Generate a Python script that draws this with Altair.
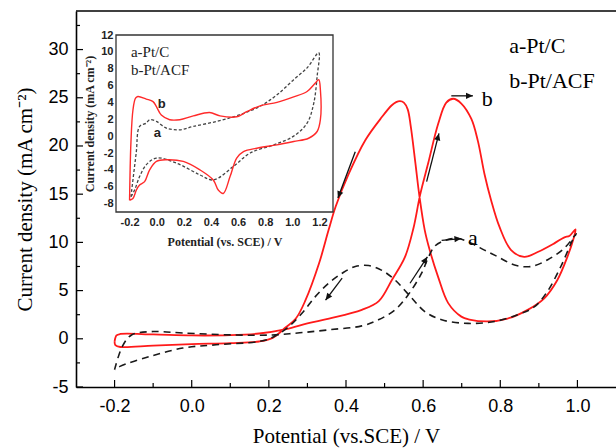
import math
import altair as alt
import pandas as pd

# ---------------- data ----------------
# main panel, curve b (Pt/ACF), red solid: forward then reverse scan
b_x = [-0.2, -0.195, -0.185, -0.1, 0.0, 0.1, 0.175, 0.245, 0.3, 0.356, 0.441, 0.485,
       0.519, 0.553, 0.575, 0.592, 0.613, 0.639, 0.66, 0.678, 0.699, 0.725, 0.742,
       0.759, 0.776, 0.798, 0.828, 0.862, 0.897, 0.94, 0.965, 0.98, 0.995,
       0.99, 0.974, 0.948, 0.914, 0.871, 0.819, 0.768, 0.72, 0.699, 0.665, 0.639,
       0.617, 0.604, 0.59, 0.58, 0.568, 0.56, 0.55, 0.54, 0.53, 0.518, 0.493, 0.45, 0.407,
       0.373, 0.355, 0.33, 0.295, 0.27, 0.244, 0.21, 0.175, 0.1, 0.0, -0.1, -0.185,
       -0.198, -0.2]
b_y = [-0.3, 0.35, 0.5, 0.45, 0.35, 0.38, 0.55, 1.0, 1.6, 2.1, 3.0, 3.9,
       6.1, 8.5, 11.5, 14.9, 18.2, 22.3, 24.5, 24.9, 24.4, 22.8, 20.5,
       17.1, 14.4, 11.6, 9.2, 8.5, 9.0, 9.9, 10.5, 10.7, 11.35,
       10.4, 8.5, 6.1, 4.2, 3.0, 2.1, 1.8, 2.0, 2.3, 3.7, 6.4,
       9.2, 11.3, 14.9, 18.2, 22.0, 23.8, 24.5, 24.65, 24.55, 24.2, 23.0, 20.6, 17.1,
       13.7, 11.3, 7.8, 4.0, 2.1, 1.2, 0.1, -0.28, -0.45, -0.55, -0.7, -0.85,
       -0.65, -0.3]

# main panel, curve a (Pt/C), black dashed
a_x = [-0.2, -0.18, -0.156, -0.1, -0.023, 0.106, 0.209, 0.28, 0.355, 0.441, 0.484,
       0.527, 0.561, 0.596, 0.613, 0.63, 0.656, 0.69, 0.725, 0.759, 0.794, 0.837,
       0.88, 0.923, 0.966, 0.991, 0.997,
       0.987, 0.957, 0.922, 0.888, 0.845, 0.785, 0.716, 0.648, 0.605, 0.571, 0.527,
       0.493, 0.459, 0.424, 0.39, 0.356, 0.321, 0.287, 0.25, 0.21, 0.175, 0.063,
       -0.023, -0.108, -0.186, -0.2]
a_y = [-3.2, -0.8, 0.4, 0.75, 0.6, 0.4, 0.4, 0.62, 0.93, 1.34, 1.97,
       3.0, 4.55, 6.8, 8.4, 9.6, 10.2, 10.4, 9.9, 9.2, 8.5, 7.65,
       7.5, 8.2, 9.4, 10.6, 10.9,
       10.2, 7.5, 4.9, 3.3, 2.5, 1.8, 1.6, 1.97, 2.8, 4.2, 6.1,
       7.1, 7.6, 7.5, 6.8, 5.8, 4.4, 2.7, 1.2, 0.15, -0.28, -0.62,
       -0.96, -1.83, -2.86, -3.2]

# inset, curve b (red solid)
ib_x = [-0.2, -0.19, -0.175, -0.156, -0.139, -0.077, -0.027, -0.002, 0.034, 0.096,
        0.17, 0.27, 0.39, 0.467, 0.59, 0.664, 0.763, 0.887, 1.01, 1.109, 1.17, 1.195,
        1.207, 1.207, 1.183, 1.12, 1.01, 0.887, 0.739, 0.64, 0.59, 0.541, 0.491,
        0.454, 0.417, 0.319, 0.196, 0.072, -0.002, -0.052, -0.089, -0.126, -0.15,
        -0.175, -0.2]
ib_y = [-7.6, -0.8, 3.1, 4.5, 4.7, 4.4, 4.1, 3.5, 2.5, 1.95,
        1.95, 2.4, 2.8, 2.4, 2.3, 2.9, 3.6, 4.0, 4.65, 5.3, 6.3, 6.7,
        5.5, 1.95, 0.55, -0.25, -0.64, -1.04, -1.43, -1.84, -2.6, -4.8, -6.8,
        -6.4, -5.2, -4.0, -3.0, -2.8, -3.0, -4.0, -5.4, -5.8, -6.4,
        -7.4, -7.6]

# inset, curve a (dark dotted)
ia_x = [-0.19, -0.151, -0.126, -0.077, -0.052, -0.002, 0.072, 0.17, 0.27, 0.442,
        0.615, 0.763, 0.887, 1.01, 1.109, 1.195, 1.183, 1.158, 1.109, 1.01, 0.862,
        0.689, 0.565, 0.417, 0.319, 0.146, -0.002, -0.077, -0.126, -0.163, -0.19]
ia_y = [-7.2, -2.0, 1.15, 1.55, 1.95, 1.75, 0.95, 0.75, 1.15, 1.75,
        2.55, 3.55, 4.9, 6.7, 8.1, 9.9, 7.1, 3.9, 1.55, 0.0, -1.04,
        -2.0, -3.6, -5.2, -4.6, -3.2, -2.6, -3.4, -4.8, -6.4, -7.2]

# tick values
x_major = [-0.2, 0.0, 0.2, 0.4, 0.6, 0.8, 1.0]
x_minor = [-0.1, 0.1, 0.3, 0.5, 0.7, 0.9]
y_major = [-5, 0, 5, 10, 15, 20, 25, 30]
y_minor = [-2.5, 2.5, 7.5, 12.5, 17.5, 22.5, 27.5, 32.5]
ix_ticks = [-0.2, 0.0, 0.2, 0.4, 0.6, 0.8, 1.0, 1.2]
iy_ticks = [-8, -6, -4, -2, 0, 2, 4, 6, 8, 10, 12]

# arrows (start -> tip, data coordinates)
arr_x0 = [0.424, 0.609, 0.673, 0.39, 0.566, 0.648]
arr_y0 = [19.4, 16.3, 25.2, 6.3, 5.76, 10.2]
arr_x1 = [0.379, 0.641, 0.729, 0.347, 0.611, 0.699]
arr_y1 = [14.6, 21.3, 25.2, 4.0, 8.5, 10.4]

# text annotations
main_txt = ["a-Pt/C", "b-Pt/ACF", "b", "a"]
main_txt_x = [0.823, 0.823, 0.752, 0.716]
main_txt_y = [29.6, 26.0, 24.15, 9.75]
inset_txt = ["a-Pt/C", "b-Pt/ACF"]
inset_txt_x = [-0.19, -0.19]
inset_txt_y = [9.4, 7.3]
inset_lbl = ["b", "a"]
inset_lbl_x = [0.008, -0.021]
inset_lbl_y = [3.34, -0.1]

# ---------------- layout ----------------
W, H = 540, 376
XD, YD = [-0.3, 1.1], [-5, 34]
IXD, IYD = [-0.3, 1.3], [-9, 12]
IXR, IYR = [40, 257], [201, 24]

SANS = "Liberation Sans"
SERIF = "Liberation Serif"


def xs():
    return alt.Scale(domain=XD, range=[0, W], nice=False, zero=False)


def ys():
    return alt.Scale(domain=YD, range=[H, 0], nice=False, zero=False)


def ixs():
    return alt.Scale(domain=IXD, range=IXR, nice=False, zero=False)


def iys():
    return alt.Scale(domain=IYD, range=IYR, nice=False, zero=False)


def curve(xv, yv):
    return pd.DataFrame({"x": xv, "y": yv, "i": list(range(len(xv)))})


def neg_fmt(fmt):
    return f"datum.value < 0 ? '-' + format(-datum.value, '{fmt}') : format(datum.value, '{fmt}')"


x_axis = alt.Axis(orient="bottom", values=x_major, labelExpr=neg_fmt(".1f"), ticks=False,
                  grid=False, domain=True, domainColor="black", domainWidth=1.6,
                  labelFont=SANS, labelFontSize=18, labelColor="black", labelPadding=10,
                  title="Potential (vs.SCE) / V", titleFont=SERIF, titleFontSize=21,
                  titleFontWeight="normal", titleColor="black", titlePadding=10)
y_axis = alt.Axis(orient="left", values=y_major, labelExpr=neg_fmt("d"), ticks=False,
                  grid=False, domain=True, domainColor="black", domainWidth=1.6,
                  labelFont=SANS, labelFontSize=18, labelColor="black", labelPadding=8,
                  title="Current density (mA cm⁻²)", titleFont=SERIF, titleFontSize=21,
                  titleFontWeight="normal", titleColor="black", titlePadding=12)

red = alt.Chart(curve(b_x, b_y)).mark_line(
    color="#ff1a1a", strokeWidth=1.8, interpolate="catmull-rom"
).encode(x=alt.X("x:Q", scale=xs(), axis=x_axis),
         y=alt.Y("y:Q", scale=ys(), axis=y_axis),
         order="i:Q")

dash = alt.Chart(curve(a_x, a_y)).mark_line(
    color="#1a1a1a", strokeWidth=1.6, strokeDash=[7, 5], interpolate="catmull-rom"
).encode(x=alt.X("x:Q", scale=xs(), axis=None),
         y=alt.Y("y:Q", scale=ys(), axis=None),
         order="i:Q")


# inward ticks
def xticks(vals, length):
    return alt.Chart(pd.DataFrame({"v": vals})).mark_rule(color="black", strokeWidth=1.2).encode(
        x=alt.X("v:Q", scale=xs(), axis=None), y=alt.value(H), y2=alt.value(H - length))


def yticks(vals, length):
    return alt.Chart(pd.DataFrame({"v": vals})).mark_rule(color="black", strokeWidth=1.2).encode(
        y=alt.Y("v:Q", scale=ys(), axis=None), x=alt.value(0), x2=alt.value(length))


top_line = alt.Chart(pd.DataFrame({"k": [0]})).mark_rule(color="black", strokeWidth=1.6).encode(
    x=alt.value(0), x2=alt.value(W), y=alt.value(0))

# arrows
sx = W / (XD[1] - XD[0])
sy = H / (YD[1] - YD[0])
angles = [math.degrees(math.atan2(-(y1 - y0) * sy, (x1 - x0) * sx)) % 360
          for x0, y0, x1, y1 in zip(arr_x0, arr_y0, arr_x1, arr_y1)]
arrows_df = pd.DataFrame({"x0": arr_x0, "y0": arr_y0, "x1": arr_x1, "y1": arr_y1, "ang": angles})

shafts = alt.Chart(arrows_df).mark_rule(color="#111", strokeWidth=1.3).encode(
    x=alt.X("x0:Q", scale=xs(), axis=None), y=alt.Y("y0:Q", scale=ys(), axis=None),
    x2="x1:Q", y2="y1:Q")
heads = alt.Chart(arrows_df).mark_point(
    shape="M0,0L-1,-0.45L-1,0.45Z", filled=True, color="#111", opacity=1, size=190, strokeWidth=0
).encode(x=alt.X("x1:Q", scale=xs(), axis=None), y=alt.Y("y1:Q", scale=ys(), axis=None),
         angle=alt.Angle("ang:Q", scale=None))

main_text = alt.Chart(pd.DataFrame({"t": main_txt, "x": main_txt_x, "y": main_txt_y})).mark_text(
    font=SERIF, fontSize=22, align="left", baseline="alphabetic", color="black"
).encode(x=alt.X("x:Q", scale=xs(), axis=None), y=alt.Y("y:Q", scale=ys(), axis=None), text="t:N")

# ---------------- inset ----------------
ix_axis = alt.Axis(orient="bottom", offset=-(H - IYR[0]), values=ix_ticks, labelExpr=neg_fmt(".1f"),
                   ticks=False, domain=False, grid=False, zindex=1,
                   labelFont=SANS, labelFontSize=11, labelFontWeight="bold", labelColor="#222",
                   labelPadding=4,
                   title="Potential (vs. SCE) / V", titleFont=SERIF, titleFontSize=12,
                   titleFontWeight="bold", titleColor="#222", titlePadding=9)
iy_axis = alt.Axis(orient="left", offset=-IXR[0], values=iy_ticks, labelExpr=neg_fmt("d"),
                   ticks=False, domain=False, grid=False, zindex=1,
                   labelFont=SANS, labelFontSize=11, labelFontWeight="bold", labelColor="#222",
                   labelPadding=3,
                   title="Current density (mA cm⁻²)", titleFont=SERIF, titleFontSize=12,
                   titleFontWeight="bold", titleColor="#222", titlePadding=4)

box = alt.Chart(pd.DataFrame({"x": [IXD[0]], "x2": [IXD[1]], "y": [IYD[0]], "y2": [IYD[1]]})).mark_rect(
    fill="white", stroke="#333", strokeWidth=1.3
).encode(x=alt.X("x:Q", scale=ixs(), axis=ix_axis), x2="x2:Q",
         y=alt.Y("y:Q", scale=iys(), axis=iy_axis), y2="y2:Q")

ired = alt.Chart(curve(ib_x, ib_y)).mark_line(
    color="#ff2a2a", strokeWidth=1.4, interpolate="catmull-rom"
).encode(x=alt.X("x:Q", scale=ixs(), axis=None), y=alt.Y("y:Q", scale=iys(), axis=None), order="i:Q")

idash = alt.Chart(curve(ia_x, ia_y)).mark_line(
    color="#444", strokeWidth=1.3, strokeDash=[3, 2], interpolate="catmull-rom"
).encode(x=alt.X("x:Q", scale=ixs(), axis=None), y=alt.Y("y:Q", scale=iys(), axis=None), order="i:Q")

itext = alt.Chart(pd.DataFrame({"t": inset_txt, "x": inset_txt_x, "y": inset_txt_y})).mark_text(
    font=SERIF, fontSize=15, align="left", baseline="alphabetic", color="#222"
).encode(x=alt.X("x:Q", scale=ixs(), axis=None), y=alt.Y("y:Q", scale=iys(), axis=None), text="t:N")

ilbl = alt.Chart(pd.DataFrame({"t": inset_lbl, "x": inset_lbl_x, "y": inset_lbl_y})).mark_text(
    font=SANS, fontSize=13, fontWeight="bold", align="left", baseline="alphabetic", color="#222"
).encode(x=alt.X("x:Q", scale=ixs(), axis=None), y=alt.Y("y:Q", scale=iys(), axis=None), text="t:N")

chart = alt.layer(
    red, dash, xticks(x_major, 7), xticks(x_minor, 4), yticks(y_major, 7), yticks(y_minor, 4),
    top_line, shafts, heads, main_text,
    box, idash, ired, itext, ilbl
).resolve_scale(
    x="independent", y="independent"
).properties(
    width=W, height=H,
    autosize=alt.AutoSizeParams(type="none"),
    padding={"left": 76, "top": 11, "right": 0, "bottom": 448 - 11 - H},
    background="white",
).configure_view(stroke=None)

chart.save("out.html", embed_options={"renderer": "svg", "actions": False})
